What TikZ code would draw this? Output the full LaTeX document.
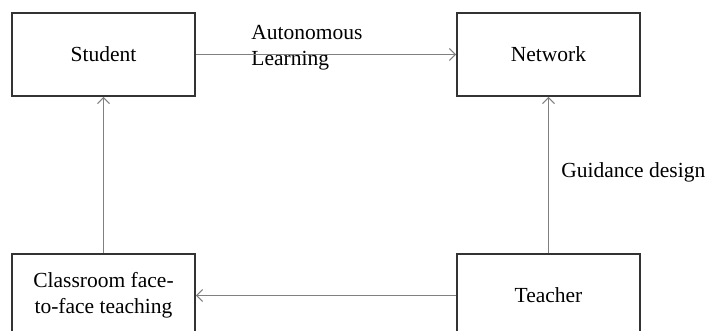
\documentclass[tikz,border=0pt]{standalone}
\usepackage{fontspec}
\setmainfont{Liberation Serif}
\usepackage{xcolor}
\definecolor{boxLine}{rgb}{0.2, 0.2, 0.2}
\definecolor{linkGray}{rgb}{0.5, 0.5, 0.5}
\usetikzlibrary{arrows.meta}

\begin{document}
\begin{tikzpicture}[x=0.5pt, y=-0.5pt,
		every node/.style={font=\fontsize{10.75}{12.8}\selectfont},
		box/.style={draw=boxLine, line width=0.8pt, minimum width=91.5pt, minimum height=41.5pt, inner sep=0pt, align=center},
		link/.style={draw=linkGray, line width=0.55pt, -{Straight Barb[length=3pt, width=6pt]}},
		lbl/.style={inner sep=0pt, align=left}]
			\useasboundingbox (0,0) rectangle (708,331);

			% Boxes
			\node[box] (student) at (103.5,54.5) {Student};
			\node[box] (network) at (548.5,54.5) {Network};
			\node[box] (classroom) at (103.5,295.5) {Classroom face-\\to-face teaching};
			\node[box] (teacher) at (548.5,295.5) {Teacher};

			% Labels
			\node[lbl, anchor=west] (autolbl) at (251,48) {Autonomous\\Learning};
			\node[lbl, anchor=west] (guidelbl) at (561,172) {Guidance design};

			% Draw links
			\draw[link] (student) -- (network);
			\draw[link] (teacher) -- (network);
			\draw[link] (teacher) -- (classroom);
			\draw[link] (classroom) -- (student);
		\end{tikzpicture}
\end{document}
